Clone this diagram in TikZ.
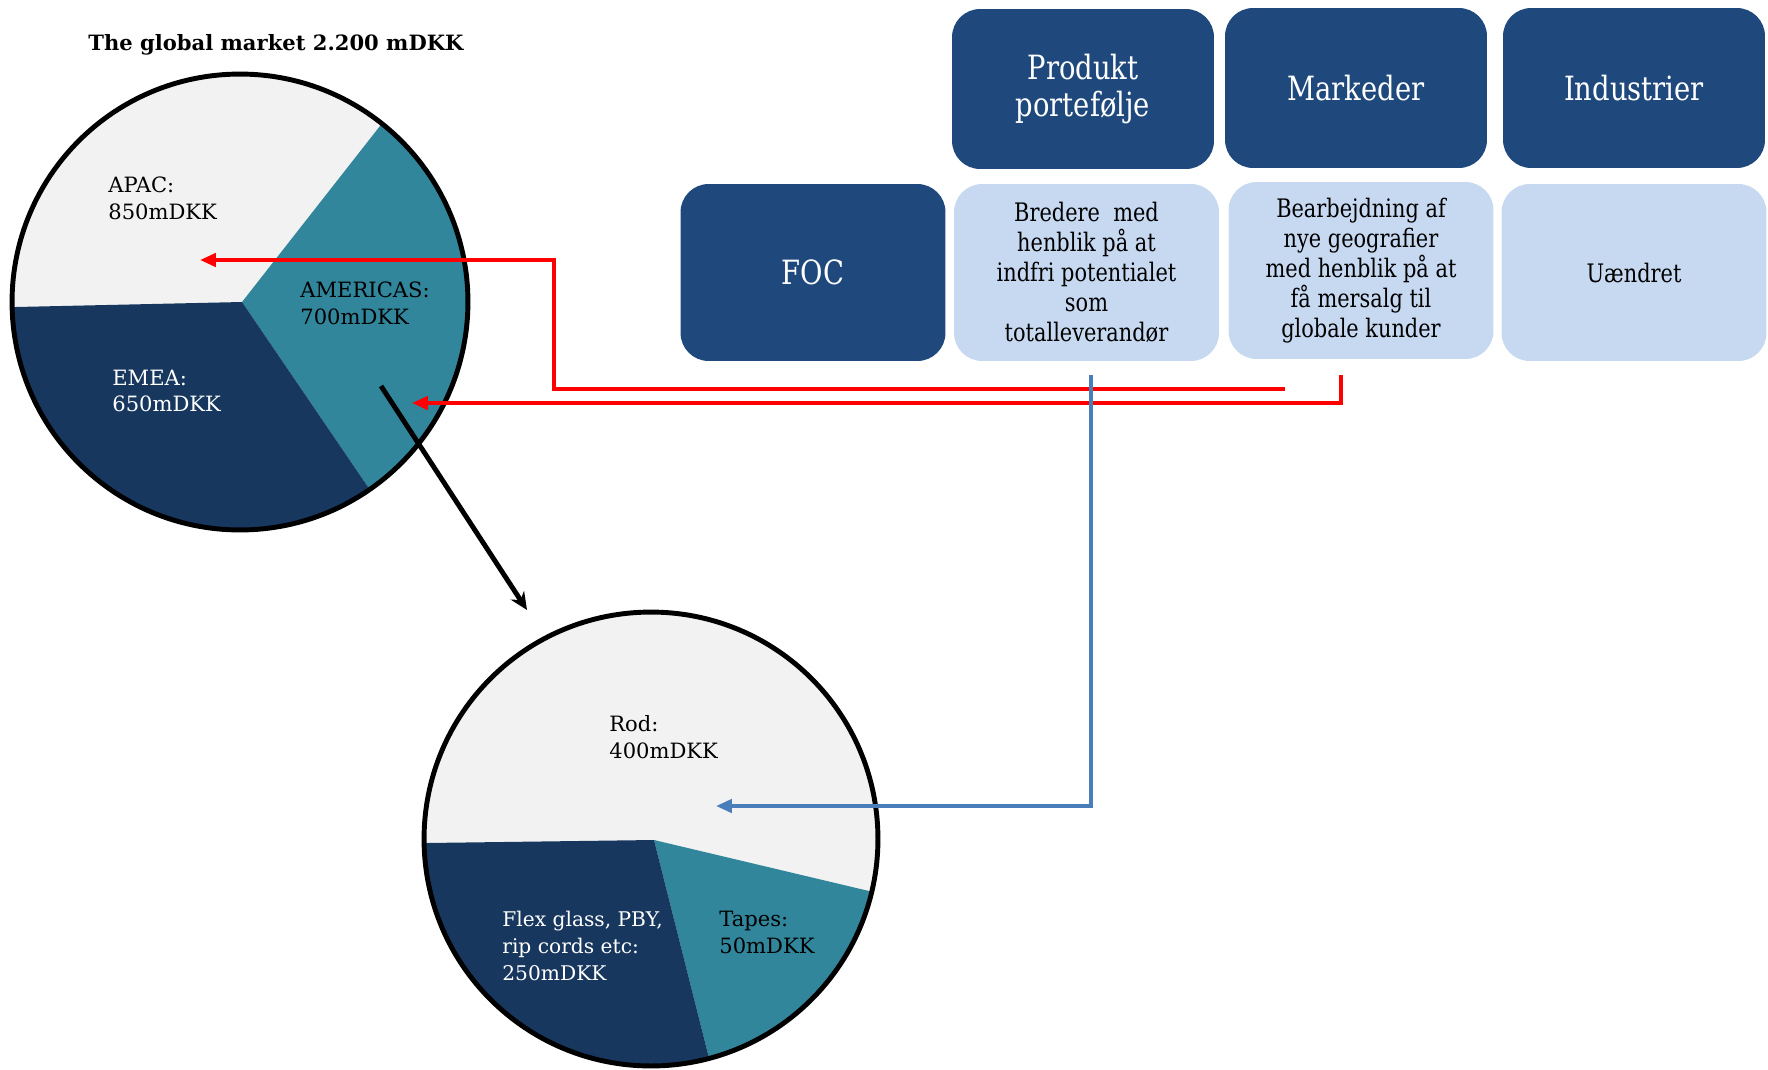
\documentclass[tikz,border=0pt]{standalone}
\usepackage{fontspec}
\setmainfont{DejaVu Serif}
\newfontfamily\boxfont[FakeStretch=0.82]{DejaVu Serif}
\usetikzlibrary{arrows.meta}
\definecolor{navy}{RGB}{31,73,125}
\definecolor{lightbox}{RGB}{198,217,241}
\definecolor{pielight}{RGB}{242,242,242}
\definecolor{pieteal}{RGB}{49,134,155}
\definecolor{piedark}{RGB}{23,55,94}
\definecolor{bluearrow}{RGB}{74,126,187}
\begin{document}
\begin{tikzpicture}[x=0.02cm,y=-0.02cm,
  headbox/.style={rectangle, rounded corners=16pt, fill=navy, text=white,
    minimum width=5.24cm, minimum height=3.2cm, align=center, inner sep=0pt,
    font=\boxfont\fontsize{19}{21.5}\selectfont},
  bodybox/.style={rectangle, rounded corners=16pt, fill=lightbox, text=black,
    minimum width=5.3cm, minimum height=3.54cm, align=center, inner sep=0pt,
    font=\boxfont\fontsize{14.5}{17}\selectfont},
  focbox/.style={bodybox, fill=navy, text=white,
    font=\boxfont\fontsize{19}{21.5}\selectfont},
  pielabel/.style={anchor=west, align=left, inner sep=0pt,
    font=\fontsize{12}{15.3}\selectfont},
  rim/.style={draw=black, line width=2.8pt},
  redarrow/.style={draw=red, line width=2.1pt, -{Triangle[length=9pt,width=7.5pt]}},
  bluearr/.style={draw=bluearrow, line width=2.1pt, -{Triangle[length=9pt,width=7.5pt]}},
  blackarr/.style={draw=black, line width=2.8pt, -{Stealth[length=10pt,width=9pt]}}
]
\useasboundingbox (0,0) rectangle (1768,1069);

% ---------- top pie ----------
\coordinate (C1) at (240,302);
\coordinate (P1) at (242,302);
\begin{scope}
  \clip (C1) circle[radius=4.56cm];
  \fill[pielight] (C1) circle[radius=4.6cm];
  \fill[pieteal] (P1) -- (518,-50) -- (700,-50) -- (700,700) -- (494,672) -- cycle;
  \fill[piedark] (P1) -- (494,672) -- (-210,700) -- (-210,312) -- cycle;
\end{scope}
\draw[rim] (C1) circle[radius=4.56cm];

\node[anchor=west, inner sep=0pt, font=\bfseries\fontsize{12}{14}\selectfont] (title) at (88,45) {The global market 2.200 mDKK};
\node[pielabel, text=black] (apac) at (108,198.5) {APAC:\\850mDKK};
\node[pielabel, text=black] (amer) at (300,303.5) {AMERICAS:\\700mDKK};
\node[pielabel, text=white] (emea) at (112,391) {EMEA:\\650mDKK};

% ---------- bottom pie ----------
\coordinate (C2) at (651,839);
\coordinate (P2) at (654,840);
\begin{scope}
  \clip (C2) circle[radius=4.54cm];
  \fill[pielight] (C2) circle[radius=4.6cm];
  \fill[pieteal] (P2) -- (1084,942) -- (1084,1300) -- (764,1276) -- cycle;
  \fill[piedark] (P2) -- (764,1276) -- (200,1300) -- (200,846) -- cycle;
\end{scope}
\draw[rim] (C2) circle[radius=4.54cm];

\node[pielabel, text=black] (rod) at (609,737) {Rod:\\400mDKK};
\node[pielabel, text=black] (tapes) at (719,932.5) {Tapes:\\50mDKK};
\node[pielabel, text=white, font=\fontsize{11.5}{15.3}\selectfont] (flex) at (502,946) {Flex glass, PBY,\\rip cords etc:\\250mDKK};

% ---------- boxes ----------
\node[headbox] (prod) at (1083,89) {Produkt\\portefølje};
\node[headbox] (mark) at (1356,88) {Markeder};
\node[headbox] (ind) at (1634,88) {Industrier};
\node[focbox] (foc) at (813,272.5) {FOC};
\node[bodybox] (bred) at (1086.5,272.5) {Bredere\ \ med\\henblik på at\\indfri potentialet\\som\\totalleverandør};
\node[bodybox] (bear) at (1361,270.5) {Bearbejdning af\\nye geografier\\med henblik på at\\få mersalg til\\globale kunder};
\node[bodybox] (uaen) at (1634,272.5) {Uændret};

% ---------- connectors ----------
\coordinate (r1s) at (1285,389);
\coordinate (r1a) at (554,389);
\coordinate (r1b) at (554,260);
\coordinate (r1t) at (200,260);
\draw[redarrow] (r1s) -- (r1a) -- (r1b) -- (r1t);

\coordinate (r2s) at (1341,375);
\coordinate (r2a) at (1341,403);
\coordinate (r2t) at (412,403);
\draw[redarrow] (r2s) -- (r2a) -- (r2t);

\coordinate (b1s) at (1091,375);
\coordinate (b1a) at (1091,806);
\coordinate (b1t) at (716,806);
\draw[bluearr] (b1s) -- (b1a) -- (b1t);

\coordinate (k1s) at (381,386);
\coordinate (k1t) at (527,610);
\draw[blackarr] (k1s) -- (k1t);
\end{tikzpicture}
\end{document}
